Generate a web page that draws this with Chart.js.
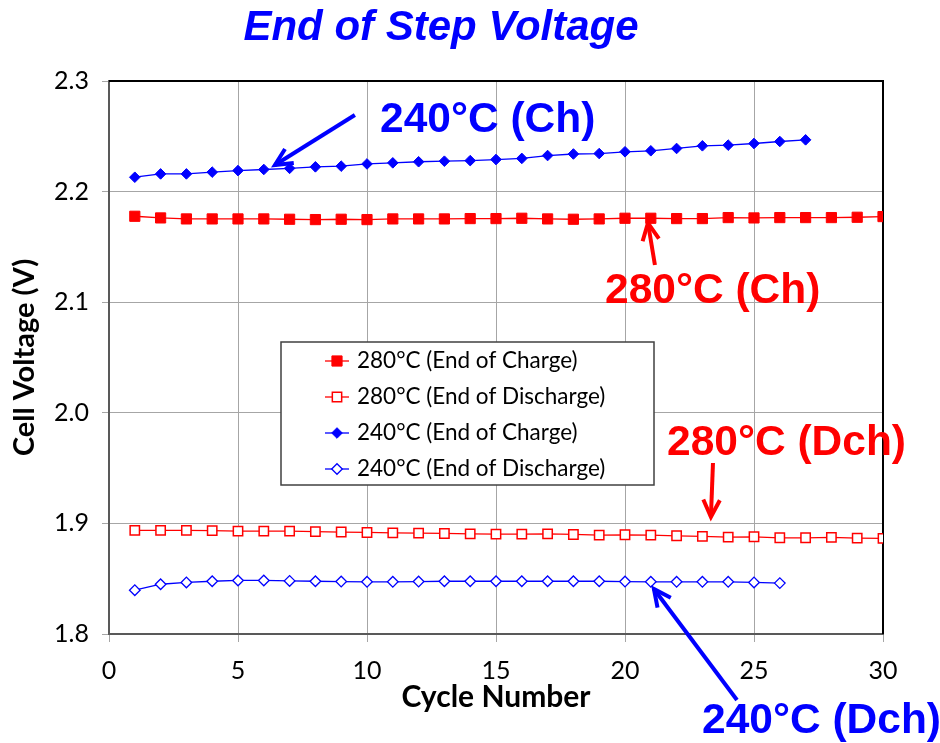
<!DOCTYPE html>
<html>
<head>
<meta charset="utf-8">
<title>End of Step Voltage</title>
<script src="https://cdn.jsdelivr.net/npm/chart.js@4.4.1/dist/chart.umd.min.js"></script>
<style>
    html, body { margin: 0; padding: 0; background: #fff; }
    #wrap { width: 940px; height: 743px; }
</style>
</head>
<body>
<div id="wrap"><canvas id="voltage" width="940" height="743"></canvas></div>
<script>

// cycle numbers
const cycles280 = [1, 2, 3, 4, 5, 6, 7, 8, 9, 10, 11, 12, 13, 14, 15, 16, 17, 18, 19, 20, 21, 22, 23, 24, 25, 26, 27, 28, 29, 30];
const cycles240Ch = [1, 2, 3, 4, 5, 6, 7, 8, 9, 10, 11, 12, 13, 14, 15, 16, 17, 18, 19, 20, 21, 22, 23, 24, 25, 26, 27];
const cycles240Dch = [1, 2, 3, 4, 5, 6, 7, 8, 9, 10, 11, 12, 13, 14, 15, 16, 17, 18, 19, 20, 21, 22, 23, 24, 25, 26];

// end of step voltages (V)
const charge280 = [2.1777, 2.1762, 2.1753, 2.1753, 2.1753, 2.1753, 2.1750, 2.1747, 2.1750, 2.1747,
                   2.1753, 2.1753, 2.1753, 2.1756, 2.1756, 2.1759, 2.1753, 2.1750, 2.1753, 2.1759,
                   2.1759, 2.1756, 2.1756, 2.1765, 2.1762, 2.1765, 2.1765, 2.1765, 2.1768, 2.1774];
const discharge280 = [1.8937, 1.8937, 1.8937, 1.8934, 1.8930, 1.8930, 1.8930, 1.8925, 1.8922, 1.8918,
                      1.8915, 1.8912, 1.8909, 1.8906, 1.8903, 1.8903, 1.8906, 1.8900, 1.8894, 1.8897,
                      1.8894, 1.8888, 1.8882, 1.8876, 1.8879, 1.8870, 1.8870, 1.8873, 1.8867, 1.8864];
const charge240 = [2.2130, 2.2160, 2.2160, 2.2176, 2.2190, 2.2200, 2.2210, 2.2224, 2.2230, 2.2250,
                   2.2260, 2.2270, 2.2275, 2.2280, 2.2290, 2.2300, 2.2326, 2.2340, 2.2344, 2.2360,
                   2.2369, 2.2390, 2.2414, 2.2420, 2.2435, 2.2453, 2.2468];
const discharge240 = [1.8396, 1.8450, 1.8466, 1.8477, 1.8484, 1.8484, 1.8480, 1.8477, 1.8474, 1.8472,
                      1.8472, 1.8474, 1.8477, 1.8477, 1.8477, 1.8477, 1.8477, 1.8477, 1.8477, 1.8474,
                      1.8472, 1.8472, 1.8472, 1.8472, 1.8466, 1.8460];

const seriesNames = ['280°C (End of Charge)', '280°C (End of Discharge)', '240°C (End of Charge)', '240°C (End of Discharge)'];

const xTicks = [0, 5, 10, 15, 20, 25, 30];
const yTicks = [1.8, 1.9, 2.0, 2.1, 2.2, 2.3];

const RED = '#ff0000';
const BLUE = '#0000ff';
const GRID = '#a6a6a6';
const AXIS = '#595959';

function toPoints(xs, ys) {
    return xs.map(function (x, i) {
        return {x: x, y: ys[i]};
    });
}

// callouts: text placed in pixels, arrows given in data units
const notes = [
    {text: '240°C (Ch)', color: BLUE, x: 380, y: 132, from: [9.53, 2.2693], to: [6.43, 2.2240]},
    {text: '280°C (Ch)', color: RED, x: 605, y: 303, from: [21.16, 2.1336], to: [20.89, 2.1716]},
    {text: '280°C (Dch)', color: RED, x: 667, y: 455, from: [23.41, 1.9546], to: [23.33, 1.9058]},
    {text: '240°C (Dch)', color: BLUE, x: 702, y: 733, from: [24.34, 1.7403], to: [21.12, 1.8407]}
];

function drawArrow(ctx, x1, y1, x2, y2, color) {
    const ang = Math.atan2(y2 - y1, x2 - x1);
    const head = 19;
    ctx.save();
    ctx.strokeStyle = color;
    ctx.lineWidth = 4;
    ctx.lineCap = 'butt';
    ctx.lineJoin = 'miter';
    ctx.beginPath();
    ctx.moveTo(x1, y1);
    ctx.lineTo(x2, y2);
    ctx.stroke();
    ctx.beginPath();
    ctx.moveTo(x2 - head * Math.cos(ang - 0.45), y2 - head * Math.sin(ang - 0.45));
    ctx.lineTo(x2, y2);
    ctx.lineTo(x2 - head * Math.cos(ang + 0.45), y2 - head * Math.sin(ang + 0.45));
    ctx.stroke();
    ctx.restore();
}

function drawLegendBox(chart) {
    const ctx = chart.ctx;
    const box = {left: 281, top: 342, right: 654, bottom: 485};
    const rows = [361, 397, 433, 469];
    ctx.save();
    ctx.fillStyle = '#fff';
    ctx.fillRect(box.left, box.top, box.right - box.left, box.bottom - box.top);
    ctx.strokeStyle = '#404040';
    ctx.lineWidth = 1.5;
    ctx.strokeRect(box.left, box.top, box.right - box.left, box.bottom - box.top);

    chart.data.datasets.forEach(function (ds, i) {
        const y = rows[i];
        ctx.strokeStyle = ds.borderColor;
        ctx.lineWidth = ds.borderWidth;
        ctx.beginPath();
        ctx.moveTo(325, y);
        ctx.lineTo(349, y);
        ctx.stroke();

        ctx.fillStyle = ds.pointBackgroundColor;
        ctx.strokeStyle = ds.pointBorderColor;
        ctx.lineWidth = ds.pointBorderWidth;
        Chart.helpers.drawPoint(ctx, {
            pointStyle: ds.pointStyle,
            radius: ds.pointRadius,
            rotation: 0,
            borderWidth: ds.pointBorderWidth
        }, 337, y);

        ctx.fillStyle = '#000';
        ctx.font = '22.5px Lato';
        ctx.textAlign = 'left';
        ctx.textBaseline = 'middle';
        ctx.fillText(ds.label, 357, y);
    });
    ctx.restore();
}

const decorations = {
    id: 'decorations',
    beforeDatasetsDraw(chart) {
        // dark frame along the top and right of the plot
        const ctx = chart.ctx;
        const a = chart.chartArea;
        ctx.save();
        ctx.strokeStyle = '#000';
        ctx.lineWidth = 2;
        ctx.beginPath();
        ctx.moveTo(a.left, a.top);
        ctx.lineTo(a.right, a.top);
        ctx.lineTo(a.right, a.bottom);
        ctx.stroke();
        ctx.restore();
    },
    afterDatasetsDraw(chart) {
        drawLegendBox(chart);
    },
    afterDraw(chart) {
        const ctx = chart.ctx;
        const xs = chart.scales.x;
        const ys = chart.scales.y;

        ctx.save();
        ctx.fillStyle = BLUE;
        ctx.font = 'italic bold 42px "Liberation Sans"';
        ctx.textAlign = 'center';
        ctx.textBaseline = 'alphabetic';
        ctx.fillText('End of Step Voltage', 441, 40);

        ctx.font = 'bold 42.5px "Liberation Sans"';
        ctx.textAlign = 'left';
        for (const n of notes) {
            ctx.fillStyle = n.color;
            ctx.fillText(n.text, n.x, n.y);
            drawArrow(ctx,
                xs.getPixelForValue(n.from[0]), ys.getPixelForValue(n.from[1]),
                xs.getPixelForValue(n.to[0]), ys.getPixelForValue(n.to[1]),
                n.color);
        }
        ctx.restore();
    }
};

window.onload = function () {
    const cell = document.getElementById('voltage');

    new Chart(cell, {
        type: 'line',
        data: {
            datasets: [{
                    label: seriesNames[0],
                    data: toPoints(cycles280, charge280),
                    borderColor: RED,
                    borderWidth: 1.3,
                    pointStyle: 'rect',
                    pointRadius: 7.2,
                    pointBackgroundColor: RED,
                    pointBorderColor: RED,
                    pointBorderWidth: 1
                }, {
                    label: seriesNames[1],
                    data: toPoints(cycles280, discharge280),
                    borderColor: RED,
                    borderWidth: 1.3,
                    pointStyle: 'rect',
                    pointRadius: 6.6,
                    pointBackgroundColor: '#fff',
                    pointBorderColor: RED,
                    pointBorderWidth: 1.5
                }, {
                    label: seriesNames[2],
                    data: toPoints(cycles240Ch, charge240),
                    borderColor: BLUE,
                    borderWidth: 1.3,
                    pointStyle: 'rectRot',
                    pointRadius: 5.3,
                    pointBackgroundColor: BLUE,
                    pointBorderColor: BLUE,
                    pointBorderWidth: 1
                }, {
                    label: seriesNames[3],
                    data: toPoints(cycles240Dch, discharge240),
                    borderColor: BLUE,
                    borderWidth: 1.3,
                    pointStyle: 'rectRot',
                    pointRadius: 5.3,
                    pointBackgroundColor: '#fff',
                    pointBorderColor: BLUE,
                    pointBorderWidth: 1.3
                }]
        },
        options: {
            responsive: false,
            animation: false,
            devicePixelRatio: 1,
            layout: {
                padding: {top: 81, right: 57, left: 0, bottom: 0}
            },
            scales: {
                x: {
                    type: 'linear',
                    min: 0,
                    max: 30,
                    afterBuildTicks: function (scale) {
                        scale.ticks = xTicks.map(v => ({value: v}));
                    },
                    afterFit: function (scale) {
                        scale.height = 109;
                    },
                    ticks: {
                        color: '#000',
                        font: {family: 'Lato', size: 25},
                        padding: 14,
                        maxRotation: 0
                    },
                    grid: {
                        color: GRID,
                        lineWidth: 1,
                        tickColor: GRID,
                        tickLength: 8
                    },
                    border: {color: AXIS, width: 2},
                    title: {
                        display: true,
                        text: 'Cycle Number',
                        color: '#000',
                        font: {family: 'Lato', size: 30, weight: 'bold'},
                        padding: {top: 0, bottom: 28}
                    }
                },
                y: {
                    type: 'linear',
                    min: 1.8,
                    max: 2.3,
                    afterBuildTicks: function (scale) {
                        scale.ticks = yTicks.map(v => ({value: v}));
                    },
                    afterFit: function (scale) {
                        scale.width = 109;
                    },
                    ticks: {
                        color: '#000',
                        font: {family: 'Lato', size: 25},
                        padding: 13,
                        callback: function (v) {
                            return Number(v).toFixed(1);
                        }
                    },
                    grid: {
                        color: GRID,
                        lineWidth: 1,
                        tickColor: GRID,
                        tickLength: 7
                    },
                    border: {color: AXIS, width: 2},
                    title: {
                        display: true,
                        text: 'Cell Voltage (V)',
                        color: '#000',
                        font: {family: 'Lato', size: 29, weight: 'bold'},
                        padding: {top: 7, bottom: 0}
                    }
                }
            },
            plugins: {
                legend: {display: false},
                tooltip: {enabled: false}
            }
        },
        plugins: [decorations]
    });
};
</script>
</body>
</html>
